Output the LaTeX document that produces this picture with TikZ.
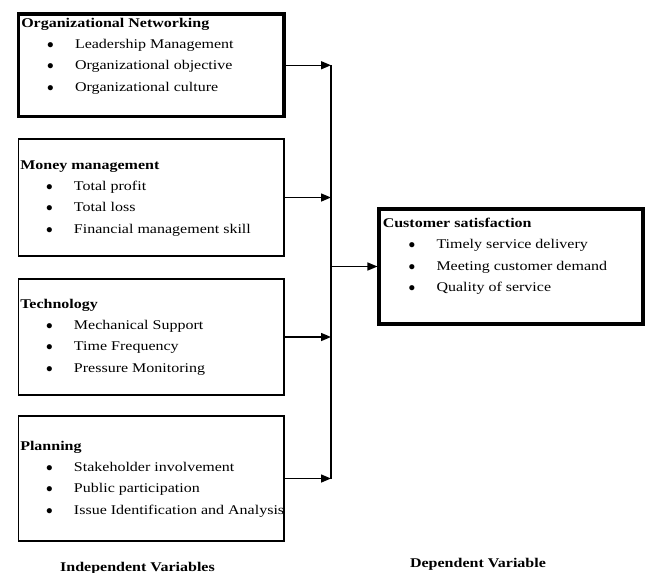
\documentclass[tikz,border=0pt]{standalone}
\usepackage{fontspec}
\setmainfont[FakeStretch=1.2]{Liberation Serif}
\usepackage{tikz}
\usetikzlibrary{arrows.meta, positioning, fit}
\newcommand{\itm}[1]{\hspace*{19.4pt}\makebox[20.9pt][l]{$\bullet$}#1}
\newcommand{\varlist}[2]{\begin{tabular}[t]{@{}l@{}}\textbf{#1}#2\end{tabular}}
\tikzset{box/.style={    % Outline of a variable box
           draw, inner sep=0pt,
           line width=1.1pt},
         keybox/.style={box, line width=2.3pt}, % Heavier outline
         txt/.style={    % Title and bullet list inside a box
           inner sep=0pt, anchor=base west,
           font=\fontsize{10}{16}\selectfont},
         foot/.style={inner sep=0pt, anchor=base, font=\fontsize{10}{12}\selectfont\bfseries},
         conn/.style={   % Connector into the bus or into the outcome
           draw, line width=1.1pt,
           -{Triangle[length=7.5pt,width=6pt]}},
         bus/.style={draw, line width=1.1pt}}

\begin{document}
\begin{tikzpicture}[x=0.75pt, y=-0.75pt]
\useasboundingbox (0,0) rectangle (650,572);

\node[keybox, fit={(18.5,14) (284,116.5)}] (org) {};
\node[box, fit={(18.5,139) (284,256)}] (money) {};
\node[box, fit={(18.5,279) (284,395)}] (tech) {};
\node[box, fit={(18.5,416) (284,541)}] (plan) {};
\node[keybox, fit={(379,209) (643,324)}] (cust) {};
\coordinate (junction) at (331,266);

\node[txt] (orgtxt) at (21,27) {\varlist{Organizational Networking}{\\ \itm{Leadership Management}\\ \itm{Organizational objective}\\ \itm{Organizational culture}}};
\node[txt] (moneytxt) at (20,169) {\varlist{Money management}{\\ \itm{Total profit}\\ \itm{Total loss}\\ \itm{Financial management skill}}};
\node[txt] (techtxt) at (20,308) {\varlist{Technology}{\\ \itm{Mechanical Support}\\ \itm{Time Frequency}\\ \itm{Pressure Monitoring}}};
\node[txt] (plantxt) at (20,450) {\varlist{Planning}{\\ \itm{Stakeholder involvement}\\ \itm{Public participation}\\ \itm{Issue Identification and Analysis}}};
\node[txt] (custtxt) at (382.5,227.5) {\varlist{Customer satisfaction}{\\ \itm{Timely service delivery}\\ \itm{Meeting customer demand}\\ \itm{Quality of service}}};

\draw[conn] (org.east) -- (org.east -| junction);
\draw[conn] (money.east) -- (money.east -| junction);
\draw[conn] (tech.east) -- (tech.east -| junction);
\draw[conn] (plan.east) -- (plan.east -| junction);
\draw[bus] (org.east -| junction) -- (plan.east -| junction);
\draw[conn] (cust.west -| junction) -- (cust.west);

\node[foot] (indep) at (137.5,571) {Independent Variables};
\node[foot] (dep) at (478,567) {Dependent Variable};

\end{tikzpicture}
\end{document}
